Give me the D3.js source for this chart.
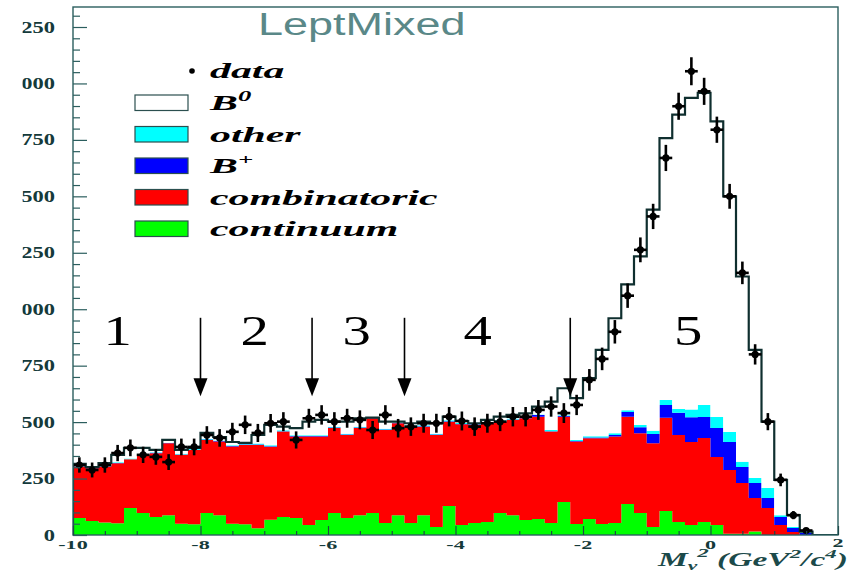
<!DOCTYPE html>
<html>
<head>
<meta charset="utf-8">
<script src="https://cdn.jsdelivr.net/npm/d3@7"></script>
<style>
  html, body { margin: 0; padding: 0; background: #fff; }
  svg { display: block; }
</style>
</head>
<body>
<svg id="chart" width="859" height="575"></svg>
<script>
// Histogram of M_nu^2 in 0.2 GeV^2/c^4 bins from -10 to 2
const binLow = -10;
const binWidth = 0.2;

const continuum = [75,62,55,52,120,97,80,88,50,48,97,88,50,48,30,68,80,75,44,66,97,75,88,97,53,88,53,88,35,128,
  44,53,58,97,88,66,71,53,146,49,71,49,53,137,97,35,106,58,44,58,44,5,5,15,0,0,0,0,0,0];
const combinatoric = [228,234,248,266,215,258,282,318,305,329,324,326,342,351,369,323,378,361,392,370,377,368,386,420,412,407,427,392,408,374,
  446,435,437,405,422,451,453,405,378,365,358,380,383,387,354,371,413,385,368,372,302,283,225,149,120,44,13,0,0,0];
const bPlus = [1,1,1,1,1,1,2,1,2,1,2,2,2,2,2,2,2,2,2,2,2,2,2,1,2,1,2,2,2,2,
  2,2,2,2,2,2,8,2,3,2,3,3,7,21,26,41,57,98,109,93,128,124,71,66,44,36,18,9,0,0];
const other = [2,2,2,3,3,3,3,2,3,3,3,3,3,3,4,4,4,4,4,4,4,4,4,2,4,2,4,4,4,4,
  4,3,3,4,4,4,2,5,3,5,5,5,8,7,10,15,22,17,35,53,49,44,23,23,44,8,4,3,0,0];
const bZero = [9,2,13,33,47,27,10,12,17,5,26,15,15,4,38,91,16,31,60,68,22,53,37,0,31,4,9,16,46,16,
  9,2,10,16,16,16,35,126,120,185,258,383,509,558,747,979,1160,1304,1380,1382,1309,1044,821,567,294,156,53,3,0,0];
const dataCounts = [310,288,310,363,386,355,346,323,390,390,443,430,457,488,452,495,502,421,517,532,502,517,510,465,532,473,480,495,495,524,
  505,480,495,502,524,524,554,569,540,576,687,780,900,1060,1263,1411,1670,1899,2054,1965,1795,1500,1161,800,502,244,88,20,0,0];
const dataErrors = [34,33,34,36,37,36,35,35,37,37,39,39,40,41,40,41,42,38,42,43,42,42,42,40,43,41,41,42,42,43,
  42,41,42,42,43,43,44,45,44,45,48,50,52,54,55,56,58,60,62,60,58,55,50,45,38,28,18,10,0,0];

const yTickValues = [0,250,500,750,1000,1250,1500,1750,2000,2250];
const xTickValues = [-10,-8,-6,-4,-2,0,2];
const cutValues = [-8, -6.25, -4.8, -2.2];
const regionNames = ["1","2","3","4","5"];
const regionCentres = [-9.3, -7.15, -5.55, -3.65, -0.35];

const seriesKeys = ["continuum","combinatoric","bPlus","other","bZero"];
const seriesColors = { continuum: "#00ff00", combinatoric: "#ff0000", bPlus: "#0000ff", other: "#00ffff", bZero: "#ffffff" };
const legendEntries = [
  { key: "bZero", label: "B", sup: "0" },
  { key: "other", label: "other" },
  { key: "bPlus", label: "B", sup: "+" },
  { key: "combinatoric", label: "combinatoric" },
  { key: "continuum", label: "continuum" }
];

const svg = d3.select("#chart");
const W = 859, H = 575;
const plot = { left: 73, right: 838, top: 7, bottom: 535 };

const x = d3.scaleLinear().domain([-10, 2]).range([plot.left, plot.right]);
const y = d3.scaleLinear().domain([0, 2250]).range([plot.bottom, 27]);
const yTopValue = y.invert(plot.top);

const ink = "#153a3a";
const serif = "'Liberation Serif', 'Times New Roman', serif";

// stretch a text element horizontally to factor k of its natural width
function stretch(sel, k) {
  sel.each(function () {
    const w = this.getComputedTextLength();
    d3.select(this).attr("textLength", w * k).attr("lengthAdjust", "spacingAndGlyphs");
  });
}

// rows for stacking
const rows = continuum.map((_, i) => ({
  lo: binLow + i * binWidth,
  continuum: continuum[i],
  combinatoric: combinatoric[i],
  bPlus: bPlus[i],
  other: other[i],
  bZero: bZero[i]
}));
const stacked = d3.stack().keys(seriesKeys)(rows);

const defs = svg.append("defs");
defs.append("clipPath").attr("id", "plotClip")
  .append("rect").attr("x", plot.left).attr("y", plot.top)
  .attr("width", plot.right - plot.left).attr("height", plot.bottom - plot.top);
defs.append("clipPath").attr("id", "labelClip")
  .append("rect").attr("x", 22.5).attr("y", 0).attr("width", W - 22.5).attr("height", H);

const gPlot = svg.append("g").attr("clip-path", "url(#plotClip)");

// stacked filled step areas
const stepArea = d3.area()
  .curve(d3.curveStepAfter)
  .x(p => x(p.x))
  .y0(p => y(p.y0))
  .y1(p => y(p.y1));

stacked.forEach(layer => {
  const pts = layer.map((d, i) => ({ x: rows[i].lo, y0: d[0], y1: d[1] }));
  const last = pts[pts.length - 1];
  pts.push({ x: last.x + binWidth, y0: last.y0, y1: last.y1 });
  gPlot.append("path")
    .attr("d", stepArea(pts))
    .attr("fill", seriesColors[layer.key])
    .attr("stroke", "none");
});

// outline of the total expectation
const totalLayer = stacked[stacked.length - 1];
const outlinePts = totalLayer.map((d, i) => [rows[i].lo, d[1]]);
outlinePts.push([outlinePts[outlinePts.length - 1][0] + binWidth, totalLayer[totalLayer.length - 1][1]]);
outlinePts.unshift([binLow, 0]);
const stepLine = d3.line().curve(d3.curveStepAfter).x(p => x(p[0])).y(p => y(p[1]));
gPlot.append("path")
  .attr("d", stepLine(outlinePts))
  .attr("fill", "none")
  .attr("stroke", "#0f2f2f")
  .attr("stroke-width", 2.2);

// data points with error bars
const pts = dataCounts.map((v, i) => ({ lo: binLow + i * binWidth, v, e: dataErrors[i] })).filter(d => d.v > 0);
const gData = gPlot.append("g");
gData.selectAll("line.v").data(pts).join("line")
  .attr("x1", d => x(d.lo + binWidth / 2)).attr("x2", d => x(d.lo + binWidth / 2))
  .attr("y1", d => y(d.v - d.e)).attr("y2", d => y(d.v + d.e))
  .attr("stroke", "#000").attr("stroke-width", 2.6);
gData.selectAll("line.h").data(pts).join("line")
  .attr("x1", d => x(d.lo)).attr("x2", d => x(d.lo + binWidth))
  .attr("y1", d => y(d.v)).attr("y2", d => y(d.v))
  .attr("stroke", "#000").attr("stroke-width", 2.6);
gData.selectAll("circle").data(pts).join("circle")
  .attr("cx", d => x(d.lo + binWidth / 2)).attr("cy", d => y(d.v))
  .attr("r", 3.6).attr("fill", "#000");

// frame
svg.append("rect")
  .attr("x", plot.left).attr("y", plot.top)
  .attr("width", plot.right - plot.left).attr("height", plot.bottom - plot.top)
  .attr("fill", "none").attr("stroke", "#2b5e5e").attr("stroke-width", 1.4);

// y-axis ticks drawn inside the frame
const yAxis = d3.axisRight(y)
  .tickValues(d3.range(0, yTopValue, 50))
  .tickSize(7)
  .tickFormat("");
const gy = svg.append("g").attr("transform", `translate(${plot.left},0)`).call(yAxis);
gy.select(".domain").remove();
gy.selectAll(".tick line").attr("stroke", "#2b5e5e").attr("stroke-width", 1.2)
  .attr("x2", d => (d % 250 === 0 ? 14 : 7));

// y tick labels (their leading digits fall off the left border)
const gyl = svg.append("g").attr("clip-path", "url(#labelClip)");
gyl.selectAll("text").data(yTickValues).join("text")
  .attr("x", 55).attr("y", d => y(d) + 5.5)
  .attr("text-anchor", "end")
  .attr("font-family", serif).attr("font-weight", "bold").attr("font-size", 17)
  .attr("fill", ink)
  .text(d => String(d))
  .call(stretch, 1.32);

// x-axis ticks inside the frame
const xAxis = d3.axisTop(x)
  .tickValues(d3.range(-10, 2.001, 0.5))
  .tickSize(4)
  .tickFormat("");
const gx = svg.append("g").attr("transform", `translate(0,${plot.bottom})`).call(xAxis);
gx.select(".domain").remove();
gx.selectAll(".tick line").attr("stroke", "#1d4848").attr("stroke-width", 1.2)
  .attr("y2", d => (Math.abs(d - Math.round(d / 2) * 2) < 1e-6 ? -9 : -4));

svg.append("g").selectAll("text").data(xTickValues).join("text")
  .attr("x", d => x(d)).attr("y", d => (d === 2 ? 547 : 549))
  .attr("text-anchor", "middle")
  .attr("font-family", serif).attr("font-weight", "bold").attr("font-size", 13)
  .attr("fill", ink)
  .text(d => (d < 0 ? "-" + Math.abs(d) : String(d)))
  .call(stretch, 1.7);

// axis title
const xt = svg.append("text")
  .attr("x", 658).attr("y", 566)
  .attr("font-family", serif).attr("font-weight", "bold").attr("font-style", "italic")
  .attr("font-size", 19).attr("fill", "#1c4a4a");
xt.append("tspan").text("M");
xt.append("tspan").attr("dy", 4).attr("font-size", 12).text("ν");
xt.append("tspan").attr("dy", -13).attr("font-size", 13).text("2");
xt.append("tspan").attr("dy", 9).text(" (GeV");
xt.append("tspan").attr("dy", -8).attr("font-size", 13).text("2");
xt.append("tspan").attr("dy", 8).text("/c");
xt.append("tspan").attr("dy", -8).attr("font-size", 13).text("4");
xt.append("tspan").attr("dy", 8).text(")");
xt.attr("textLength", 190).attr("lengthAdjust", "spacingAndGlyphs");

// title
svg.append("text")
  .attr("x", 258).attr("y", 35)
  .attr("font-family", "'Liberation Sans', Arial, sans-serif")
  .attr("font-size", 31)
  .attr("fill", "#5a8888")
  .text("LeptMixed")
  .call(stretch, 1.45);

// legend
const gLeg = svg.append("g");
gLeg.append("circle").attr("cx", 192).attr("cy", 71).attr("r", 2.8).attr("fill", "#000");
gLeg.append("text").attr("x", 210).attr("y", 78)
  .attr("font-family", serif).attr("font-weight", "bold").attr("font-style", "italic")
  .attr("font-size", 22).attr("fill", "#000").text("data").call(stretch, 1.9);
legendEntries.forEach((e, i) => {
  const top = 95 + i * 31.5;
  gLeg.append("rect").attr("x", 135).attr("y", top).attr("width", 53).attr("height", 15.5)
    .attr("fill", seriesColors[e.key]).attr("stroke", "#2b4f4f").attr("stroke-width", 1.2);
  const t = gLeg.append("text").attr("x", 210).attr("y", top + 15)
    .attr("font-family", serif).attr("font-weight", "bold").attr("font-style", "italic")
    .attr("font-size", 22).attr("fill", "#000");
  t.append("tspan").text(e.label);
  if (e.sup) t.append("tspan").attr("dy", -9).attr("font-size", 14).text(e.sup);
  t.call(stretch, 1.9);
});

// region numbers and cut arrows
svg.append("g").selectAll("text").data(regionNames).join("text")
  .attr("x", (d, i) => x(regionCentres[i])).attr("y", 345)
  .attr("text-anchor", "middle")
  .attr("font-family", serif).attr("font-size", 42).attr("fill", "#000")
  .text(d => d)
  .call(stretch, 1.35);

const gCut = svg.append("g");
cutValues.forEach(c => {
  const cx = x(c), yTop = y(962), yTip = y(615);
  gCut.append("line").attr("x1", cx).attr("x2", cx).attr("y1", yTop).attr("y2", yTip - 10)
    .attr("stroke", "#000").attr("stroke-width", 1.6);
  gCut.append("path")
    .attr("d", `M${cx - 7},${yTip - 18} L${cx + 7},${yTip - 18} L${cx},${yTip} Z`)
    .attr("fill", "#000");
});
</script>
</body>
</html>
